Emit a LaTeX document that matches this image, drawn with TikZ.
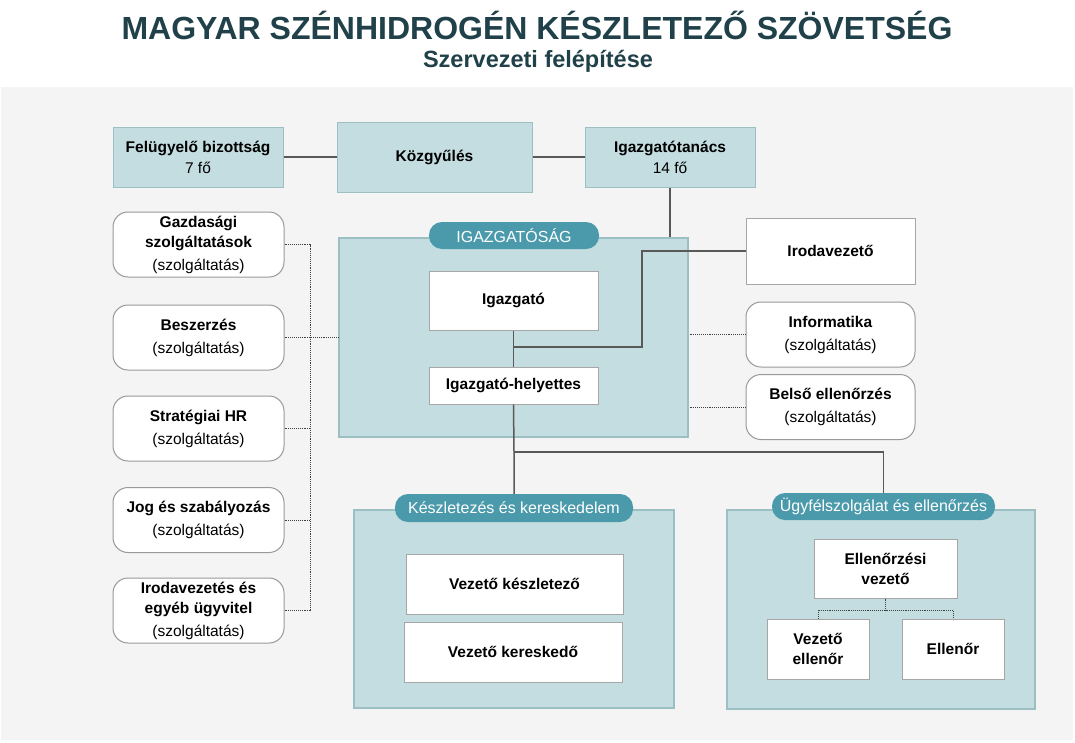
\documentclass[tikz,border=0pt]{standalone}
\usepackage{fontspec}
\setmainfont{Liberation Sans}
\usetikzlibrary{positioning}
\usetikzlibrary{calc}

\definecolor{hatter}{HTML}{F4F4F4}
\definecolor{kekes}{HTML}{C3DDE0}
\definecolor{keret}{HTML}{9BBFC3}
\definecolor{fejlec}{HTML}{4A9AAB}
\definecolor{cimszin}{HTML}{21414A}
\definecolor{vonalszin}{HTML}{595959}

\tikzset{
  tagbox/.style={draw=keret, fill=kekes, line width=1pt, align=center, inner sep=0pt, font=\fontsize{15.5}{21}\selectfont},
  feherbox/.style={draw=black!35, fill=white, line width=1pt, align=center, inner sep=0pt, font=\fontsize{15.5}{20}\selectfont\bfseries},
  szolgbox/.style={draw=black!40, fill=white, line width=1pt, align=center, inner sep=0pt, rounded corners=15pt, minimum width=171pt, minimum height=65pt, font=\fontsize{15.5}{20}\selectfont},
  panel/.style={draw=keret, fill=kekes, line width=1.2pt, inner sep=0pt},
  fejlecbox/.style={fill=fejlec, text=white, rounded corners=13pt, inner sep=0pt, font=\fontsize{16}{20}\selectfont},
  kapcsolat/.style={draw=vonalszin, line width=1.5pt},
  pontozott/.style={draw=black!75, densely dotted, line width=0.9pt}
}

\begin{document}
\begin{tikzpicture}[x=1pt, y=-1pt]
  % hatter es cim
  \useasboundingbox (0,0) rectangle (1075,742);
  \fill[white] (0,0) rectangle (1075,742);
  \fill[hatter] (1,87) rectangle (1073,740);
  \node[text=cimszin, font=\fontsize{32}{36}\selectfont\bfseries] (cim) at (537,25) {MAGYAR SZÉNHIDROGÉN KÉSZLETEZŐ SZÖVETSÉG};
  \node[text=cimszin, font=\fontsize{23.5}{28}\selectfont\bfseries] (alcim) at (538,61) {Szervezeti felépítése};

  % felso sor
  \node[tagbox, minimum width=170pt, minimum height=60pt] (felugy) at (198,157) {\textbf{Felügyelő bizottság}\\ 7 fő};
  \node[tagbox, minimum width=195pt, minimum height=70pt] (kozgy) at (434.5,157) {\textbf{Közgyűlés}};
  \node[tagbox, minimum width=170pt, minimum height=60pt] (igtan) at (670,157) {\textbf{Igazgatótanács}\\ 14 fő};

  % panelek
  \node[panel, minimum width=349pt, minimum height=199pt] (igsag) at (513.5,337.5) {};
  \node[fejlecbox, minimum width=170pt, minimum height=27pt] (igsagtab) at (514,235.5) {IGAZGATÓSÁG};
  \node[panel, minimum width=320pt, minimum height=198pt] (kesz) at (514,609) {};
  \node[fejlecbox, minimum width=238pt, minimum height=28pt] (kesztab) at (514,508) {Készletezés és kereskedelem};
  \node[panel, minimum width=308pt, minimum height=199pt] (ugyf) at (881,609.5) {};
  \node[fejlecbox, minimum width=223pt, minimum height=27pt] (ugyftab) at (883.5,506.5) {Ügyfélszolgálat és ellenőrzés};

  % igazgatosag
  \node[feherbox, minimum width=169pt, minimum height=59pt] (igazgato) at (513.5,300.5) {Igazgató};
  \node[feherbox, minimum width=169pt, minimum height=37pt] (helyettes) at (513.5,385.5) {Igazgató-helyettes};
  \node[feherbox, minimum width=169pt, minimum height=66pt] (irodavez) at (830.5,251) {Irodavezető};

  % szolgaltatasok
  \node[szolgbox] (gazd) at (198.5,244.5) {\textbf{Gazdasági}\\ \textbf{szolgáltatások}\\[3pt] (szolgáltatás)};
  \node[szolgbox] (besz) at (198.5,337.5) {\textbf{Beszerzés}\\[3pt] (szolgáltatás)};
  \node[szolgbox] (strat) at (198.5,428.5) {\textbf{Stratégiai HR}\\[3pt] (szolgáltatás)};
  \node[szolgbox] (jog) at (198.5,520) {\textbf{Jog és szabályozás}\\[3pt] (szolgáltatás)};
  \node[szolgbox] (iroda) at (198.5,610.5) {\textbf{Irodavezetés és}\\ \textbf{egyéb ügyvitel}\\[3pt] (szolgáltatás)};
  \node[szolgbox, minimum width=169pt] (inform) at (830.5,334.5) {\textbf{Informatika}\\[3pt] (szolgáltatás)};
  \node[szolgbox, minimum width=169pt] (belso) at (830.5,407) {\textbf{Belső ellenőrzés}\\[3pt] (szolgáltatás)};

  % also panelek tartalma
  \node[feherbox, minimum width=217pt, minimum height=60pt] (vkesz) at (514.5,584) {Vezető készletező};
  \node[feherbox, minimum width=218pt, minimum height=60pt] (vker) at (513,652) {Vezető kereskedő};
  \node[feherbox, minimum width=143pt, minimum height=59pt] (ellvez) at (885.5,568.5) {Ellenőrzési\\ vezető};
  \node[feherbox, minimum width=102pt, minimum height=60pt] (vell) at (818,649) {Vezető\\ ellenőr};
  \node[feherbox, minimum width=102pt, minimum height=60pt] (ell) at (953,649) {Ellenőr};

  % osszekotesek
  \draw[kapcsolat] (felugy) -- (kozgy);
  \draw[kapcsolat] (kozgy) -- (igtan);
  \draw[kapcsolat] (igtan.south) -- (igtan.south |- igsag.north);
  \draw[kapcsolat] (igazgato.south) -- (helyettes.north);
  \coordinate (elagazas) at (514,347);
  \coordinate (kanyar) at (642,251);
  \draw[kapcsolat] (elagazas) -| (kanyar) -- (irodavez.west);
  \coordinate (also) at (514,452);
  \draw[kapcsolat] (helyettes.south) -- (also) -- (kesztab.north);
  \draw[kapcsolat] (also) -| (ugyftab.north);

  % pontozott vonalak
  \coordinate (gerinc) at (310,244.5);
  \draw[pontozott] (gazd.east) -| (iroda.east -| gerinc) -- (iroda.east);
  \draw[pontozott] (besz.east) -- (igsag.west);
  \draw[pontozott] (strat.east) -- (strat.east -| gerinc);
  \draw[pontozott] (jog.east) -- (jog.east -| gerinc);
  \draw[pontozott] (inform.west) -- (inform.west -| igsag.east);
  \draw[pontozott] (belso.west) -- (belso.west -| igsag.east);
  \coordinate (ellcsomo) at (885.5,610);
  \draw[pontozott] (ellvez.south) -- (ellcsomo);
  \draw[pontozott] (vell.north) |- (ellcsomo) -| (ell.north);
\end{tikzpicture}
\end{document}
